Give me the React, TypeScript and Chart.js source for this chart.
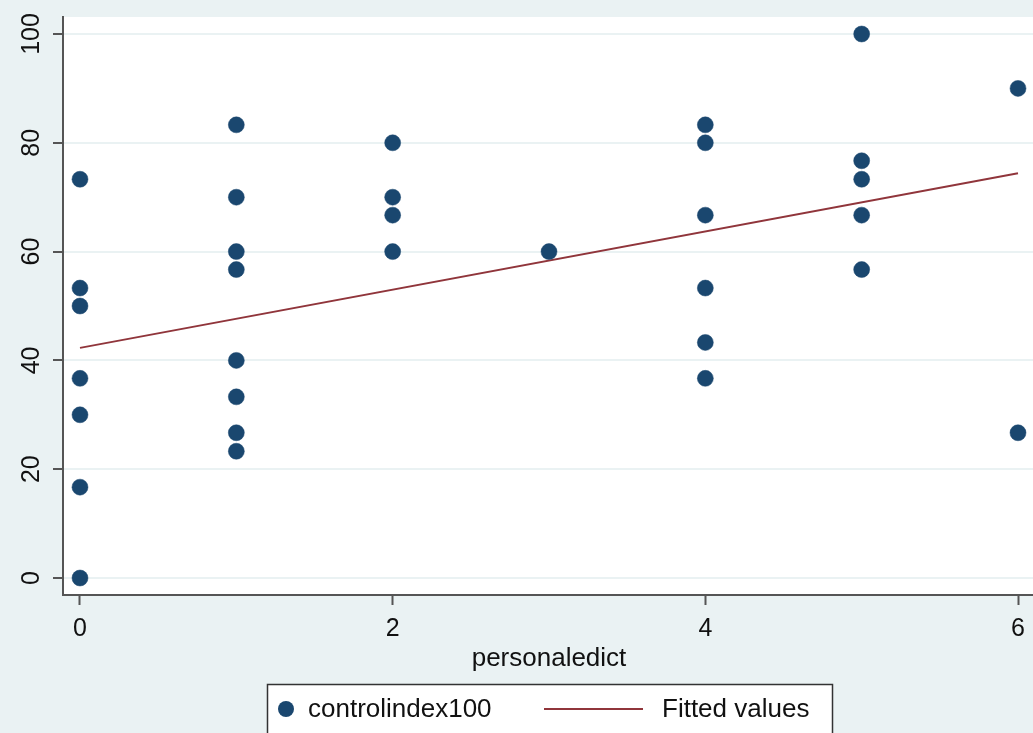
import React, { useEffect, useRef } from "react";
import { Chart, registerables } from "chart.js";
Chart.register(...registerables);

const xTicks = [0, 2, 4, 6];
const yTicks = [0, 20, 40, 60, 80, 100];
const scatterX = [0, 0, 0, 0, 0, 0, 0, 1, 1, 1, 1, 1, 1, 1, 1, 2, 2, 2, 2, 3, 4, 4, 4, 4, 4, 4, 5, 5, 5, 5, 5, 6, 6];
const scatterY = [73.3, 53.3, 50, 36.7, 30, 16.7, 0, 83.3, 70, 60, 56.7, 40, 33.3, 26.7, 23.3, 80, 70, 66.7, 60, 60, 83.3, 80, 66.7, 53.3, 43.3, 36.7, 100, 76.7, 73.3, 66.7, 56.7, 90, 26.7];
const fitX = [0, 6];
const fitY = [42.3, 74.4];
const xTitle = "personaledict";
const seriesNames = ["controlindex100", "Fitted values"];

const W = 1060;
const H = 733;
const FONT = "'Liberation Sans', Arial, sans-serif";

export default function App() {
  const ref = useRef<HTMLCanvasElement | null>(null);
  useEffect(() => {
    if (!ref.current) return;
    const navy = "#1a476f";
    const maroon = "#90353b";
    const bgPlugin = {
      id: "bgPlugin",
      beforeDraw(chart: any) {
        const { ctx, chartArea: a, width, height } = chart;
        ctx.save();
        ctx.fillStyle = "#eaf2f3";
        ctx.fillRect(0, 0, width, height);
        ctx.fillStyle = "#ffffff";
        ctx.fillRect(a.left, a.top, a.right - a.left, a.bottom - a.top);
        ctx.restore();
      },
      afterDraw(chart: any) {
        const { ctx, chartArea: a } = chart;
        const ds = chart.data.datasets;
        const boxW = 565;
        const cx = (a.left + a.right) / 2;
        const left = Math.round(cx - boxW / 2);
        const top = 684;
        const boxH = 52;
        ctx.save();
        ctx.fillStyle = "#ffffff";
        ctx.fillRect(left, top, boxW, boxH);
        ctx.strokeStyle = "#333333";
        ctx.lineWidth = 1.5;
        ctx.strokeRect(left + 0.5, top + 0.5, boxW, boxH);
        const my = top + 26;
        ctx.fillStyle = ds[0].backgroundColor;
        ctx.beginPath();
        ctx.arc(left + 19, my - 1, 8, 0, Math.PI * 2);
        ctx.fill();
        ctx.fillStyle = "#111";
        ctx.font = `26px ${FONT}`;
        ctx.textBaseline = "middle";
        ctx.textAlign = "left";
        ctx.fillText(ds[0].label, left + 41, my);
        ctx.strokeStyle = ds[1].borderColor;
        ctx.lineWidth = 2;
        ctx.beginPath();
        ctx.moveTo(left + 277, my - 1);
        ctx.lineTo(left + 376, my - 1);
        ctx.stroke();
        ctx.fillText(ds[1].label, left + 395, my);
        ctx.restore();
      },
    };

    const chart = new Chart(ref.current, {
      type: "scatter",
      data: {
        datasets: [
          {
            label: seriesNames[0],
            data: scatterX.map((x, i) => ({ x, y: scatterY[i] })),
            backgroundColor: navy,
            borderColor: navy,
            pointRadius: 8,
            borderWidth: 0.5,
            showLine: false,
          },
          {
            label: seriesNames[1],
            data: fitX.map((x, i) => ({ x, y: fitY[i] })),
            borderColor: maroon,
            backgroundColor: maroon,
            borderWidth: 2,
            pointRadius: 0,
            showLine: true,
          },
        ],
      },
      options: {
        responsive: false,
        animation: false,
        devicePixelRatio: 1,
        layout: { padding: { left: 0, top: 17, right: W - 1035, bottom: H - 677 } },
        plugins: { legend: { display: false }, tooltip: { enabled: false } },
        scales: {
          x: {
            type: "linear",
            min: -0.1087,
            max: 6.1087,
            afterBuildTicks: (s: any) => {
              s.ticks = xTicks.map((v) => ({ value: v }));
            },
            afterFit: (s: any) => {
              s.height = 82;
            },
            grid: {
              drawOnChartArea: false,
              drawTicks: true,
              tickLength: 10,
              tickColor: "#555555",
              tickWidth: 2,
            },
            border: { display: true, color: "#555555", width: 2 },
            ticks: {
              font: { family: FONT, size: 25 },
              color: "#111",
              padding: 9,
              maxRotation: 0,
              minRotation: 0,
            },
            title: {
              display: true,
              text: xTitle,
              font: { family: FONT, size: 26 },
              color: "#111",
              padding: { top: 0, bottom: 3 },
            },
          },
          y: {
            type: "linear",
            min: -3.125,
            max: 103.125,
            afterBuildTicks: (s: any) => {
              s.ticks = yTicks.map((v) => ({ value: v }));
            },
            afterFit: (s: any) => {
              s.width = 63;
            },
            grid: {
              drawOnChartArea: true,
              color: "#eaf2f3",
              lineWidth: 2,
              drawTicks: true,
              tickLength: 10,
              tickColor: "#555555",
              tickWidth: 2,
            },
            border: { display: true, color: "#555555", width: 2 },
            ticks: {
              font: { family: FONT, size: 25 },
              color: "#111",
              padding: 0,
              minRotation: 90,
              maxRotation: 90,
              crossAlign: "center",
            },
          },
        },
      },
      plugins: [bgPlugin],
    } as any);
    return () => chart.destroy();
  }, []);

  return (
    <div
      style={{
        position: "fixed",
        left: 0,
        top: 0,
        width: 1033,
        height: 733,
        overflow: "hidden",
        background: "#eaf2f3",
      }}
    >
      <canvas ref={ref} width={W} height={H} style={{ width: W, height: H, display: "block" }} />
    </div>
  );
}
